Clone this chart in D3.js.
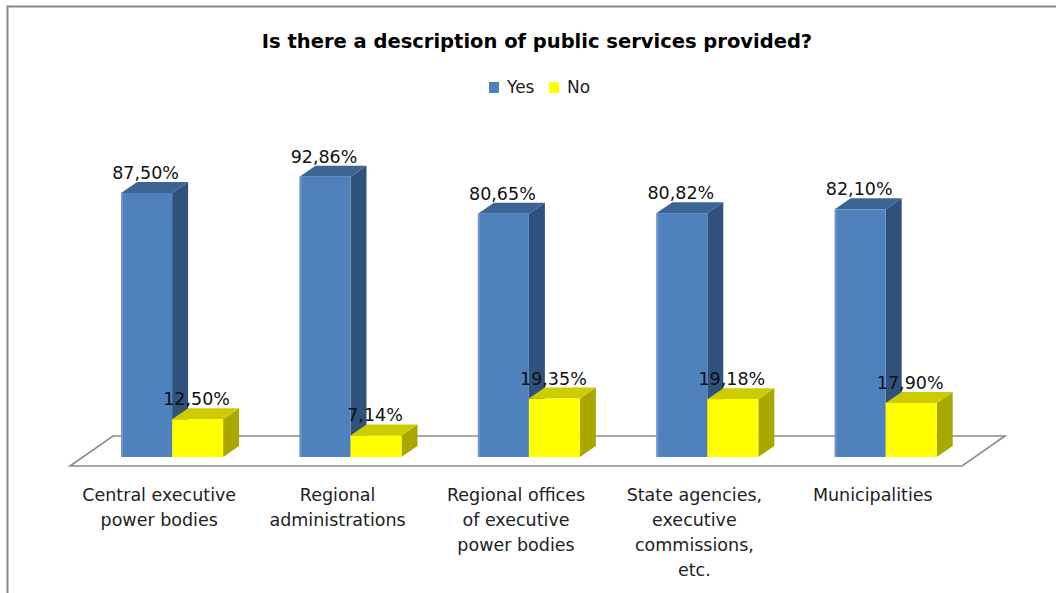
<!DOCTYPE html>
<html>
<head>
<meta charset="utf-8">
<script src="https://cdn.jsdelivr.net/npm/d3@7"></script>
<style>
  html, body { margin: 0; padding: 0; background: #fff; }
  svg { display: block; }
  text { font-family: "DejaVu Sans", sans-serif; }
</style>
</head>
<body>
<svg id="chart" width="1056" height="593"></svg>
<script>
// Share of bodies that publish a description of the public services they provide
const categories = [
  "Central executive\npower bodies",
  "Regional\nadministrations",
  "Regional offices\nof executive\npower bodies",
  "State agencies,\nexecutive\ncommissions,\netc.",
  "Municipalities"
];
const seriesNames = ["Yes", "No"];
const yesValues = [87.50, 92.86, 80.65, 80.82, 82.10];
const noValues  = [12.50, 7.14, 19.35, 19.18, 17.90];
const valueLabels = {
  Yes: ["87,50%", "92,86%", "80,65%", "80,82%", "82,10%"],
  No:  ["12,50%", "7,14%", "19,35%", "19,18%", "17,90%"]
};
const title = "Is there a description of public services provided?";

const faceColors = {
  Yes: { front: "#4F81BD", top: "#3C6595", side: "#30517B" },
  No:  { front: "#FFFF00", top: "#CCCC00", side: "#A8A800" }
};

const svg = d3.select("#chart");
const W = 1056, H = 593;

// Outer chart frame (continues past the right and bottom edges)
svg.append("rect")
  .attr("x", 7.5).attr("y", 6.5)
  .attr("width", 1200).attr("height", 800)
  .attr("fill", "#fff")
  .attr("stroke", "#878787").attr("stroke-width", 2);

// Title
svg.append("text")
  .attr("x", 537).attr("y", 48)
  .attr("text-anchor", "middle")
  .attr("font-weight", "bold")
  .attr("font-size", 19.5)
  .attr("fill", "#000")
  .text(title);

// Legend
const legend = svg.append("g");
const legendItems = [
  { name: "Yes", x: 489 },
  { name: "No", x: 549 }
];
legendItems.forEach(d => {
  legend.append("rect")
    .attr("x", d.x).attr("y", 82)
    .attr("width", 10).attr("height", 11)
    .attr("fill", faceColors[d.name].front);
  legend.append("text")
    .attr("x", d.x + 18).attr("y", 93)
    .attr("font-size", 17)
    .attr("fill", "#222")
    .text(d.name);
});

// 3D geometry: floor depth and bar depth offsets
const floorFront = { x0: 70, x1: 962, y: 466 };
const floorDepth = { dx: 43, dy: -30 };
const barPlane = 0.3;                       // bars stand 30% back into the floor
const barDepth = { dx: 16, dy: -11 };

// Front-edge band scale for categories (also used for the axis labels)
const x = d3.scaleBand()
  .domain(d3.range(categories.length))
  .range([floorFront.x0, floorFront.x1])
  .paddingInner(0).paddingOuter(0);

const xSeries = d3.scaleBand()
  .domain(seriesNames)
  .range([0, x.bandwidth()])
  .paddingInner(0).paddingOuter(0.749);

const planeDx = floorDepth.dx * barPlane;
const planeDy = floorDepth.dy * barPlane;
const baseY = floorFront.y + planeDy;       // value 0 on the bars' front plane

const y = d3.scaleLinear().domain([0, 100]).range([baseY, baseY - 301.7]);

// Floor
const fx0 = floorFront.x0, fx1 = floorFront.x1, fy = floorFront.y;
svg.append("path")
  .attr("d", `M${fx0},${fy} L${fx1},${fy} L${fx1 + floorDepth.dx},${fy + floorDepth.dy} L${fx0 + floorDepth.dx},${fy + floorDepth.dy} Z`)
  .attr("fill", "#fff")
  .attr("stroke", "#8c8c8c")
  .attr("stroke-width", 1.6)
  .attr("stroke-linejoin", "miter");

// Bars
const rows = [];
categories.forEach((c, i) => {
  rows.push({ i, s: "Yes", v: yesValues[i], label: valueLabels.Yes[i] });
  rows.push({ i, s: "No", v: noValues[i], label: valueLabels.No[i] });
});

const bars = svg.append("g");
rows.forEach(d => {
  const left = x(d.i) + xSeries(d.s) + planeDx;
  const right = left + xSeries.bandwidth();
  const top = y(d.v);
  const bottom = y(0);
  const dx = barDepth.dx, dy = barDepth.dy;
  const col = faceColors[d.s];
  const g = bars.append("g");
  // side face
  g.append("path")
    .attr("d", `M${right},${bottom} L${right},${top} L${right + dx},${top + dy} L${right + dx},${bottom + dy} Z`)
    .attr("fill", col.side);
  // top face
  g.append("path")
    .attr("d", `M${left},${top} L${right},${top} L${right + dx},${top + dy} L${left + dx},${top + dy} Z`)
    .attr("fill", col.top);
  // front face
  g.append("rect")
    .attr("x", left).attr("y", top)
    .attr("width", right - left).attr("height", bottom - top)
    .attr("fill", col.front);
  if (d.s === "Yes") {
    g.append("rect")
      .attr("x", left).attr("y", top)
      .attr("width", 2).attr("height", bottom - top)
      .attr("fill", "#7FA3D3").attr("opacity", 0.6);
  }
  d.cx = (left + right) / 2;
  d.ly = top + dy - 3;
});

// Value labels (drawn above all bars)
svg.append("g").selectAll("text")
  .data(rows)
  .join("text")
  .attr("x", d => d.cx - 1)
  .attr("y", d => d.ly)
  .attr("text-anchor", "middle")
  .attr("font-size", 17.5)
  .attr("fill", "#111")
  .text(d => d.label);

// Category labels along the front edge of the floor
const catG = svg.append("g");
categories.forEach((c, i) => {
  const t = catG.append("text")
    .attr("x", x(i) + x.bandwidth() / 2)
    .attr("y", 501)
    .attr("text-anchor", "middle")
    .attr("font-size", 17.5)
    .attr("fill", "#222");
  c.split("\n").forEach((line, k) => {
    t.append("tspan")
      .attr("x", x(i) + x.bandwidth() / 2)
      .attr("dy", k === 0 ? 0 : 25)
      .text(line);
  });
});
</script>
</body>
</html>
